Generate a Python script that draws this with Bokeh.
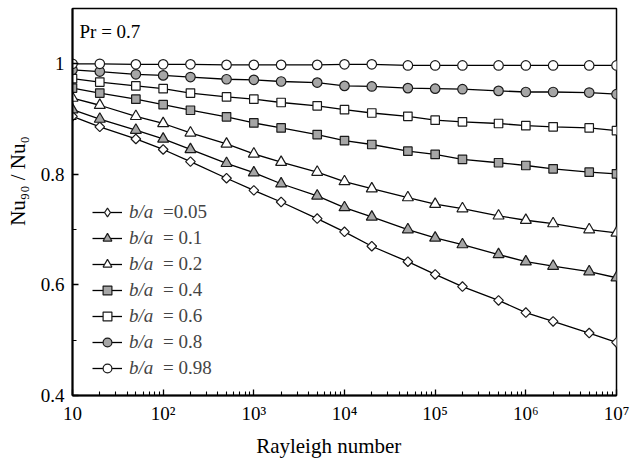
import math

from bokeh.plotting import figure
from bokeh.models import Range1d, FixedTicker, Legend, LegendItem, Label
from bokeh.embed import file_html
from bokeh.resources import INLINE

# Rayleigh numbers at which Nu90/Nu0 was evaluated
rayleigh = [10, 20, 50, 1e2, 2e2, 5e2, 1e3, 2e3, 5e3, 1e4, 2e4, 5e4,
            1e5, 2e5, 5e5, 1e6, 2e6, 5e6, 1e7]

# Nu90 / Nu0 for each aspect ratio b/a  (Pr = 0.7)
ratio_005 = [0.905, 0.886, 0.864, 0.845, 0.823, 0.793, 0.771, 0.750, 0.720, 0.696,
             0.670, 0.642, 0.619, 0.597, 0.572, 0.550, 0.534, 0.513, 0.496]
ratio_010 = [0.917, 0.900, 0.880, 0.864, 0.845, 0.820, 0.803, 0.783, 0.761, 0.740,
             0.723, 0.700, 0.685, 0.673, 0.655, 0.642, 0.634, 0.624, 0.613]
ratio_020 = [0.938, 0.925, 0.905, 0.892, 0.875, 0.855, 0.837, 0.822, 0.804, 0.787,
             0.774, 0.758, 0.746, 0.738, 0.725, 0.717, 0.711, 0.700, 0.694]
ratio_040 = [0.956, 0.947, 0.936, 0.926, 0.916, 0.904, 0.893, 0.884, 0.872, 0.861,
             0.854, 0.842, 0.836, 0.827, 0.821, 0.816, 0.810, 0.804, 0.801]
ratio_060 = [0.973, 0.967, 0.960, 0.955, 0.947, 0.940, 0.936, 0.930, 0.924, 0.917,
             0.911, 0.905, 0.898, 0.895, 0.892, 0.888, 0.886, 0.884, 0.879]
ratio_080 = [0.989, 0.986, 0.981, 0.979, 0.976, 0.972, 0.971, 0.968, 0.966, 0.960,
             0.959, 0.956, 0.955, 0.954, 0.951, 0.949, 0.949, 0.948, 0.945]
ratio_098 = [1.000, 1.000, 0.999, 0.999, 0.999, 0.998, 0.998, 0.998, 0.998, 0.999,
             0.999, 0.997, 0.997, 0.997, 0.997, 0.997, 0.997, 0.997, 0.997]

legend_values = ["=0.05", "= 0.1", "= 0.2", "= 0.4", "= 0.6", "= 0.8", "= 0.98"]

x_major = [10, 1e2, 1e3, 1e4, 1e5, 1e6, 1e7]
x_labels = ["10", "10\u00b2", "10\u00b3", "10\u2074", "10\u2075", "10\u2076", "10\u2077"]
y_major = [0.4, 0.6, 0.8, 1.0]
y_labels = ["0.4", "0.6", "0.8", "1"]
y_minor = [0.5, 0.7, 0.9]

GRAY = "#a6a6a6"
WHITE = "#ffffff"
EDGE = "#1a1a1a"
FONT = "Liberation Serif"
NBSP = "\u00a0"

# (values, marker, fill, size, angle, legend marker)
series = [
    (ratio_005, "square", WHITE, 6.8, math.pi / 4, "diamond"),
    (ratio_010, "triangle", GRAY, 11, 0.0, None),
    (ratio_020, "triangle", WHITE, 11, 0.0, None),
    (ratio_040, "square", GRAY, 8.5, 0.0, None),
    (ratio_060, "square", WHITE, 8.5, 0.0, None),
    (ratio_080, "circle", GRAY, 9.5, 0.0, None),
    (ratio_098, "circle", WHITE, 9.5, 0.0, None),
]

p = figure(
    width=635, height=460,
    x_axis_type="log",
    x_range=Range1d(10, 1e7), y_range=Range1d(0.4, 1.1),
    output_backend="svg", toolbar_location=None,
    min_border_left=72, min_border_right=19,
    min_border_top=8, min_border_bottom=62,
)
p.xgrid.visible = False
p.ygrid.visible = False
p.outline_line_color = "black"
p.outline_line_width = 1.5
p.background_fill_color = "white"
p.border_fill_color = "white"

items = []
value_items = []
for vals, marker, fill, size, angle, key_marker in series:
    ln = p.line(rayleigh, vals, line_color="black", line_width=1.3)
    sc = p.scatter(rayleigh, vals, marker=marker, size=size, angle=angle,
                   fill_color=fill, line_color=EDGE, line_width=1.2)
    if key_marker is not None:
        # legend keys ignore the marker angle, so the key uses a hidden diamond
        sc = p.scatter(rayleigh, vals, marker=key_marker, size=size,
                       fill_color=fill, line_color=EDGE, line_width=1.2,
                       visible=False)
    items.append(LegendItem(label="b/a", renderers=[ln, sc]))

# blank renderer so the "= value" column can sit in its own legend
blank = p.line([], [], line_alpha=0)
for txt in legend_values:
    value_items.append(LegendItem(label=txt, renderers=[blank]))

legend_style = dict(glyph_height=22, spacing=4, label_height=22,
                    label_text_font=FONT, label_text_font_size="19px",
                    padding=0, margin=0,
                    border_line_color=None, background_fill_alpha=0)
leg = Legend(items=items, location=(20, 16), glyph_width=30,
             label_standoff=7, label_text_font_style="italic", **legend_style)
leg_vals = Legend(items=value_items, location=(90, 16), glyph_width=1,
                  label_standoff=0, **legend_style)
p.add_layout(leg)
p.add_layout(leg_vals)

# axes
for ax in (p.xaxis[0], p.yaxis[0]):
    ax.axis_line_width = 2
    ax.axis_line_color = "black"
    ax.major_tick_in = 6
    ax.major_tick_out = 0
    ax.minor_tick_in = 4
    ax.minor_tick_out = 0
    ax.major_tick_line_width = 1.3
    ax.minor_tick_line_width = 1.1
    ax.major_label_text_font = FONT
    ax.major_label_text_font_size = "19px"
    ax.major_label_text_color = "black"
    ax.axis_label_text_font = FONT
    ax.axis_label_text_font_style = "normal"
    ax.axis_label_text_color = "black"

x_minor = [m * d for d in x_major[:-1] for m in range(2, 10)]
p.xaxis.ticker = FixedTicker(ticks=x_major, minor_ticks=x_minor)
p.xaxis.major_label_overrides = dict(zip(x_major, x_labels))
p.xaxis.axis_label = "Rayleigh number" + NBSP * 6
p.xaxis.axis_label_text_font_size = "21px"
p.xaxis.major_label_standoff = 7
p.xaxis.axis_label_standoff = 7

p.yaxis.ticker = FixedTicker(ticks=y_major, minor_ticks=y_minor)
p.yaxis.major_label_overrides = dict(zip(y_major, y_labels))
p.yaxis.axis_label = NBSP * 8 + "Nu\u2089\u2080 / Nu\u2080"
p.yaxis.axis_label_text_font_size = "21px"
p.yaxis.major_label_standoff = 8
p.yaxis.axis_label_standoff = 8

p.add_layout(Label(x=10, y=1.1, x_offset=7, y_offset=-12, text="Pr = 0.7",
                   text_baseline="top", text_font=FONT, text_font_size="19px",
                   text_color="black"))

open("out.html", "w").write(file_html(p, INLINE))
